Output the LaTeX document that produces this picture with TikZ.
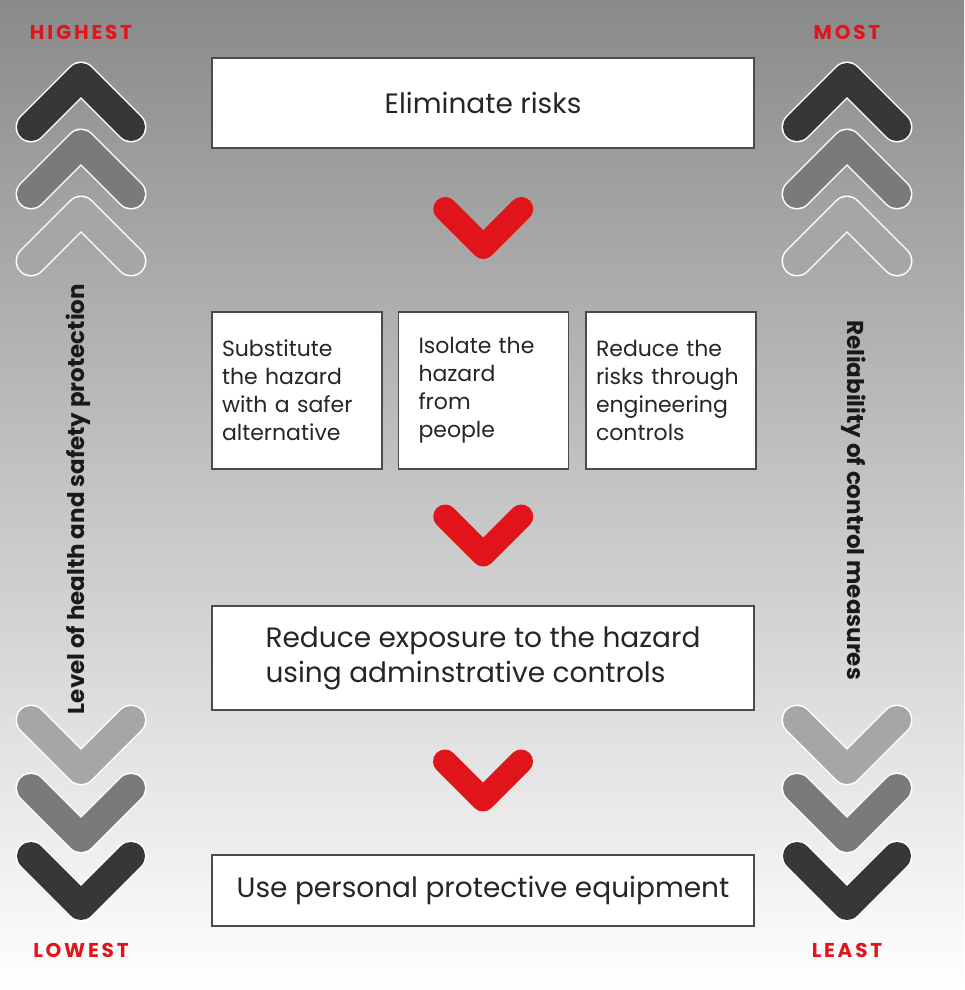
\documentclass[tikz,border=0pt]{standalone}
\usepackage{fontspec}
\setmainfont{Poppins}
\newfontfamily\endfont{Poppins}[LetterSpace=14]
\definecolor{myred}{RGB}{226,20,27}
\definecolor{mydark}{RGB}{55,55,55}
\definecolor{mymid}{RGB}{122,122,122}
\definecolor{mylight}{RGB}{166,166,166}
\definecolor{mytop}{RGB}{138,138,138}
\definecolor{mymiddle}{RGB}{172,172,172}
\definecolor{myborder}{RGB}{75,75,75}
\usetikzlibrary{positioning,calc}

% grey chevron: x, y of the tip, 1 = up / -1 = down, colour
\newcommand{\greychev}[4]{%
  \draw[white,line width=31pt,line cap=round,line join=round]
    ({#1-50},{#2+#3*50}) -- (#1,#2) -- ({#1+50},{#2+#3*50});
  \draw[#4,line width=28pt,line cap=round,line join=round]
    ({#1-50},{#2+#3*50}) -- (#1,#2) -- ({#1+50},{#2+#3*50});}

% red chevron centred on a named coordinate
\newcommand{\redchev}[1]{%
  \draw[myred,line width=24pt,line cap=round,line join=round]
    ([shift={(-38,-21)}]#1) -- ([shift={(0,17)}]#1) -- ([shift={(38,-21)}]#1);}

\begin{document}
\begin{tikzpicture}[x=1pt,y=-1pt,
    box/.style={draw=myborder,line width=1.5pt,fill=white,inner sep=0pt,text=black!85},
    bigbox/.style={box,minimum width=542pt},
    smallbox/.style={box,minimum width=170pt,minimum height=157pt,align=left,
      font=\fontsize{22}{28}\selectfont},
    endlabel/.style={text=myred,font=\endfont\bfseries\fontsize{20}{22}\selectfont},
    sidelabel/.style={text=black!90,font=\bfseries\fontsize{23}{25}\selectfont}
    ]

    \useasboundingbox (0,0) rectangle (964,990);
    \shade[top color=mytop,middle color=mymiddle,bottom color=white] (0,0) rectangle (964,990);

    % the boxes
    \node (elim) [bigbox,minimum height=90pt,font=\fontsize{28}{30}\selectfont] at (483,103) {Eliminate risks};
    \node (sub) [smallbox,text width=150pt] at (297,390.5) {Substitute\\the hazard\\with a safer\\alternative};
    \node (iso) [smallbox,text width=130pt,right=15pt of sub] {Isolate the\\hazard\\from\\people};
    \node (eng) [smallbox,text width=150pt,right=16pt of iso] {Reduce the\\risks through\\engineering\\controls};
    \node (admin) [bigbox,minimum height=104pt,align=left,
      font=\fontsize{28}{35}\selectfont] at (483,658) {Reduce exposure to the hazard\\using adminstrative controls};
    \node (ppe) [bigbox,minimum height=71pt,font=\fontsize{28}{30}\selectfont] at (483,890.5) {Use personal protective equipment};

    % the red chevrons
    \coordinate (r1) at ($(elim.south)!.5!(iso.north)$);
    \coordinate (r2) at ($(iso.south)!.5!(admin.north)$);
    \coordinate (r3) at ($(admin.south)!.5!(ppe.north)$);
    \redchev{r1}
    \redchev{r2}
    \redchev{r3}

    % the grey chevrons
    \foreach \cx in {81,847} {
      \greychev{\cx}{77}{1}{mydark}
      \greychev{\cx}{144}{1}{mymid}
      \greychev{\cx}{211}{1}{mylight}
      \greychev{\cx}{770}{-1}{mylight}
      \greychev{\cx}{838}{-1}{mymid}
      \greychev{\cx}{906}{-1}{mydark}
    }

    % the labels
    \node (hi) [endlabel] at (81,32) {HIGHEST};
    \node (lo) [endlabel] at (81,950) {LOWEST};
    \node (most) [endlabel] at (847,32) {MOST};
    \node (least) [endlabel] at (847,950) {LEAST};
    \node (level) [sidelabel,rotate=90] at (78,499) {Level of health and safety protection};
    \node (rel) [sidelabel,rotate=-90] at (854,500) {Reliability of control measures};
\end{tikzpicture}
\end{document}
